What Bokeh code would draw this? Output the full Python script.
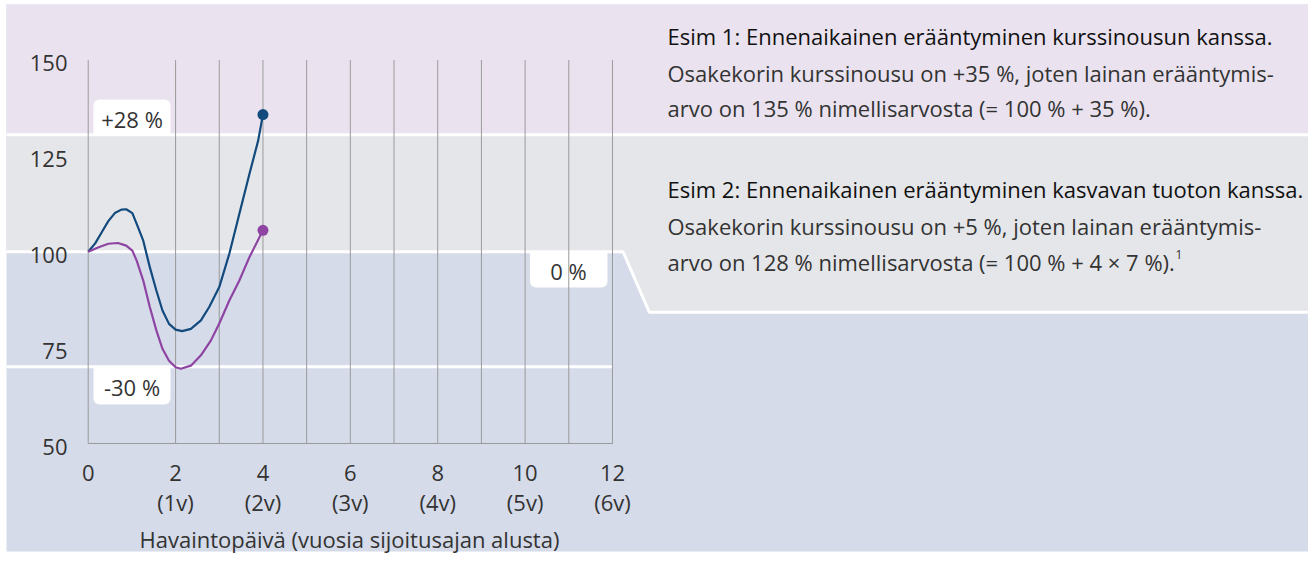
from bokeh.plotting import figure
from bokeh.models import Range1d, BoxAnnotation
from bokeh.core.properties import value
from bokeh.embed import file_html
from bokeh.resources import INLINE

# ---------------- data ----------------
x_ticks = [0, 2, 4, 6, 8, 10, 12]
x_tick_labels = ["0", "2", "4", "6", "8", "10", "12"]
x_sub_labels = ["", "(1v)", "(2v)", "(3v)", "(4v)", "(5v)", "(6v)"]
grid_x = [0, 2, 3, 4, 5, 6, 7, 8, 9, 10, 11, 12]
y_ticks = [50, 75, 100, 125, 150]
y_tick_labels = ["50", "75", "100", "125", "150"]
x_title = "Havaintopäivä (vuosia sijoitusajan alusta)"

# Esim 1 (blue): early maturity with price rise
ex1_x = [0, 0.16, 0.31, 0.46, 0.61, 0.76, 0.87, 1.01, 1.11, 1.26, 1.41, 1.56, 1.70, 1.85,
         2.0, 2.15, 2.35, 2.58, 2.77, 3.0, 3.23, 3.46, 3.69, 3.89, 4.0]
ex1_y = [100, 102.2, 105.1, 108.0, 110.1, 111.0, 111.1, 110.1, 107.3, 102.9, 96.0, 89.9, 84.7, 81.2,
         79.7, 79.3, 79.9, 82.1, 85.6, 90.8, 99.5, 109.9, 120.3, 129.0, 135.8]
# Esim 2 (purple): early maturity with growing return
ex2_x = [0, 0.24, 0.46, 0.68, 0.87, 1.01, 1.11, 1.26, 1.41, 1.56, 1.70, 1.85,
         2.0, 2.12, 2.35, 2.58, 2.81, 3.0, 3.23, 3.46, 3.69, 4.0]
ex2_y = [100, 101.2, 102.1, 102.3, 101.6, 100.3, 97.7, 92.5, 85.6, 79.5, 74.7, 71.6,
         69.9, 69.5, 70.3, 73.0, 76.9, 81.3, 87.3, 92.5, 98.6, 105.6]

upper_level = 130.5
start_level = 100
lower_level = 70
level_labels = ["+28 %", "0 %", "-30 %"]

ex1_text = ["Esim 1: Ennenaikainen erääntyminen kurssinousun kanssa.",
            "Osakekorin kurssinousu on +35 %, joten lainan erääntymis-",
            "arvo on 135 % nimellisarvosta (= 100 % + 35 %)."]
ex2_text = ["Esim 2: Ennenaikainen erääntyminen kasvavan tuoton kanssa.",
            "Osakekorin kurssinousu on +5 %, joten lainan erääntymis-",
            "arvo on 128 % nimellisarvosta (= 100 % + 4 × 7 %)."]
footnote = "1"

# ---------------- layout helpers (page px -> data) ----------------
X0, UX = 87.7, 43.69
Y150, UY = 59.6, 3.834
def dx(px): return (px - X0) / UX
def dy(py): return 150 - (py - Y150) / UY

W, H = 1308, 556
FONT = value("Open Sans")
FS = "22px"
TXT = "#333333"

p = figure(width=W, height=H, output_backend="svg", toolbar_location=None,
           x_range=Range1d(dx(0), dx(W)), y_range=Range1d(dy(H), dy(0)),
           min_border=0, x_axis_location=None, y_axis_location=None)
p.grid.visible = False
p.outline_line_color = None
p.background_fill_color = "white"
p.border_fill_color = "white"

L, R, T, B = dx(6), dx(W), dy(4), dy(551)
# bands
p.quad(left=L, right=R, bottom=B, top=T, fill_color="#D5DBE9", line_color=None, level="image")
p.quad(left=L, right=R, bottom=upper_level, top=T, fill_color="#EAE3EF", line_color=None, level="image")
gx = [L, R, R, dx(648.8), dx(622.6), L]
gy = [upper_level, upper_level, dy(311.7), dy(311.7), start_level, start_level]
p.patch(gx, gy, fill_color="#E5E6E9", line_color=None, level="image")

# white level lines
p.line([L, R], [upper_level, upper_level], line_color="white", line_width=3)
p.line([L, dx(622.6), dx(648.8), R], [start_level, start_level, dy(311.7), dy(311.7)],
       line_color="white", line_width=3)
p.line([L, grid_x[-1]], [lower_level, lower_level], line_color="white", line_width=3)

# label boxes
for (l, r, t, b, rad) in [(93, 170, 99, 134, (6, 6, 0, 0)),
                          (529.5, 607, 251, 287, (0, 0, 6, 6)),
                          (93, 170, 367, 404, (0, 0, 6, 6))]:
    p.add_layout(BoxAnnotation(left=dx(l), right=dx(r), top=dy(t), bottom=dy(b),
                               fill_color="white", fill_alpha=1, line_alpha=0,
                               border_radius=rad, level="underlay"))
p.text(x=[dx(131.5), dx(568), dx(131.5)], y=[dy(118), dy(270), dy(386)], text=level_labels,
       text_font=FONT, text_font_size=FS, text_color=TXT,
       text_align="center", text_baseline="middle")

# grid + axis
p.segment(x0=grid_x, y0=[y_ticks[0]] * len(grid_x), x1=grid_x, y1=[y_ticks[-1]] * len(grid_x),
          line_color="#9a9a9a", line_width=1)
p.segment(x0=[x_ticks[0]], y0=[y_ticks[0]], x1=[x_ticks[-1]], y1=[y_ticks[0]],
          line_color="#9a9a9a", line_width=1.2)

# tick labels
p.text(x=[dx(67)] * len(y_ticks), y=y_ticks, text=y_tick_labels, y_offset=3,
       text_font=FONT, text_font_size=FS, text_color=TXT,
       text_align="right", text_baseline="middle")
p.text(x=x_ticks, y=[dy(472)] * len(x_ticks), text=x_tick_labels,
       text_font=FONT, text_font_size=FS, text_color=TXT,
       text_align="center", text_baseline="middle")
p.text(x=x_ticks, y=[dy(501)] * len(x_ticks), text=x_sub_labels,
       text_font=FONT, text_font_size=FS, text_color=TXT,
       text_align="center", text_baseline="middle")
p.text(x=[dx(349)], y=[dy(538)], text=[x_title],
       text_font=FONT, text_font_size=FS, text_color=TXT,
       text_align="center", text_baseline="middle")

# curves
BLUE, PURPLE = "#124A7E", "#8E44A2"
p.line(ex1_x, ex1_y, line_color=BLUE, line_width=2.2, line_join="round")
p.line(ex2_x, ex2_y, line_color=PURPLE, line_width=2.2, line_join="round")
p.scatter([ex1_x[-1]], [ex1_y[-1]], size=11, fill_color=BLUE, line_color=None)
p.scatter([ex2_x[-1]], [ex2_y[-1]], size=11, fill_color=PURPLE, line_color=None)

# explanatory texts
tx = dx(667)
for lines, ys in [(ex1_text, [35, 72, 107]), (ex2_text, [188, 225, 261])]:
    p.text(x=[tx], y=[dy(ys[0])], text=[lines[0]], text_font=FONT, text_font_size=FS,
           text_color="#111111", text_align="left", text_baseline="middle")
    p.text(x=[tx] * 2, y=[dy(ys[1]), dy(ys[2])], text=lines[1:], text_font=FONT,
           text_font_size=FS, text_color=TXT, text_align="left", text_baseline="middle")
p.text(x=[dx(1175)], y=[dy(254)], text=[footnote], text_font=FONT, text_font_size="12px",
       text_color=TXT, text_align="left", text_baseline="middle")

open("out.html", "w").write(file_html(p, INLINE))
